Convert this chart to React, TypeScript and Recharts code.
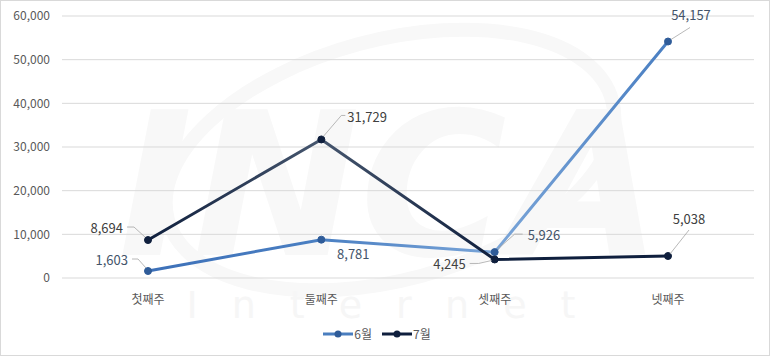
import React from 'react';
import { LineChart, Line, XAxis, YAxis, CartesianGrid, Legend } from 'recharts';

const categories = ['첫째주', '둘째주', '셋째주', '넷째주'];
const junValues = [1603, 8781, 5926, 54157];
const julValues = [8694, 31729, 4245, 5038];
const yTicks = [0, 10000, 20000, 30000, 40000, 50000, 60000];
const seriesNames = ['6월', '7월'];

const data = categories.map((c, i) => ({ name: c, jun: junValues[i], jul: julValues[i] }));

const FONT = "'Noto Sans CJK KR', 'Noto Sans', sans-serif";

type Place = { dx: number; dy: number; anchor: 'start' | 'middle' | 'end'; leader: number[][] | null };

const junPlaces: Place[] = [
  { dx: -20, dy: -12, anchor: 'end', leader: [[-16, -12], [-10, -12], [-2, -3]] },
  { dx: 32, dy: 14, anchor: 'middle', leader: null },
  { dx: 33, dy: -18, anchor: 'start', leader: [[3, -3], [20, -18], [28, -18]] },
  { dx: 23, dy: -27, anchor: 'middle', leader: [[3, -2], [22, -14]] },
];
const julPlaces: Place[] = [
  { dx: -25, dy: -13, anchor: 'end', leader: [[-21, -13], [-14, -13], [-3, -3]] },
  { dx: 26, dy: -23, anchor: 'start', leader: [[2, -3], [20, -24], [24, -24]] },
  { dx: -29, dy: 4, anchor: 'end', leader: [[-25, 4], [-16, 4], [-3, 1]] },
  { dx: 21, dy: -38, anchor: 'middle', leader: [[2, -2], [21, -26]] },
];

const makeLabel = (places: Place[], color: string) => (props: any) => {
  const { x, y, value, index } = props;
  const p = places[index];
  if (!p || x == null || y == null) return null;
  const pts = p.leader ? p.leader.map(([a, b]) => `${x + a},${y + b}`).join(' ') : null;
  return (
    <g>
      {pts && <polyline points={pts} fill="none" stroke="#a6a6a6" strokeWidth={0.8} />}
      <text
        x={x + p.dx}
        y={y + p.dy}
        textAnchor={p.anchor}
        dominantBaseline="central"
        fontSize={13}
        fontFamily={FONT}
        fill={color}
      >
        {Number(value).toLocaleString('en-US')}
      </text>
    </g>
  );
};

const renderLegend = () => {
  const items = [
    { name: seriesNames[0], color: '#4a7ebf', dot: '#2f5c99' },
    { name: seriesNames[1], color: '#0f1f3d', dot: '#0f1f3d' },
  ];
  return (
    <div style={{ display: 'flex', justifyContent: 'center', alignItems: 'center', paddingTop: 9, fontFamily: FONT, fontSize: 12, color: '#595959' }}>
      {items.map((it) => (
        <div key={it.name} style={{ display: 'flex', alignItems: 'center', margin: '0 5px' }}>
          <svg width={30} height={10}>
            <line x1={0} y1={5} x2={30} y2={5} stroke={it.color} strokeWidth={3} />
            <circle cx={15} cy={5} r={3.5} fill={it.dot} />
          </svg>
          <span style={{ marginLeft: 1 }}>{it.name}</span>
        </div>
      ))}
    </div>
  );
};

const Watermark = () => (
  <svg width={770} height={356} style={{ position: 'absolute', left: 0, top: 0 }}>
    <ellipse cx={390} cy={160} rx={230} ry={120} fill="none" stroke="#f8f8f8" strokeWidth={14} transform="rotate(-15 390 160)" />
    <text x={390} y={255} textAnchor="middle" fontSize={200} fontWeight="bold" fontStyle="italic" fontFamily="'DejaVu Sans', sans-serif" fill="#f8f8f8">INCA</text>
    <text x={398} y={318} textAnchor="middle" fontSize={38} letterSpacing={34} fontFamily="'DejaVu Sans', sans-serif" fill="#f6f6f6">Internet</text>
  </svg>
);

export default function App() {
  return (
    <div style={{ position: 'absolute', left: 0, top: 0, width: 768, height: 354, border: '1px solid #d9d9d9', background: '#fff' }}>
      <div style={{ position: 'absolute', left: -1, top: -1 }}>
        <Watermark />
      </div>
      <div style={{ position: 'absolute', left: -1, top: -1 }}>
        <LineChart width={770} height={356} data={data} margin={{ top: 16, right: 16, left: 0, bottom: 8 }}>
          <defs>
            <linearGradient id="gJun" gradientUnits="userSpaceOnUse" x1={148} y1={0} x2={667} y2={0}>
              <stop offset="0" stopColor="#3d70b8" />
              <stop offset="0.33" stopColor="#4a7fc2" />
              <stop offset="0.67" stopColor="#7aa5d8" />
              <stop offset="1" stopColor="#4a7fc2" />
            </linearGradient>
            <linearGradient id="gJul" gradientUnits="userSpaceOnUse" x1={148} y1={0} x2={667} y2={0}>
              <stop offset="0" stopColor="#0f1f3d" />
              <stop offset="0.33" stopColor="#46566e" />
              <stop offset="0.67" stopColor="#0f1f3d" />
              <stop offset="1" stopColor="#0f1f3d" />
            </linearGradient>
          </defs>
          <CartesianGrid vertical={false} stroke="#d9d9d9" strokeWidth={1} />
          <XAxis
            dataKey="name"
            axisLine={false}
            tickLine={false}
            tickSize={0}
            tickMargin={17}
            height={38}
            padding={{ left: 86, right: 86 }}
            tick={{ fontSize: 12, fill: '#595959', fontFamily: FONT }}
          />
          <YAxis
            domain={[0, 60000]}
            ticks={yTicks}
            width={62}
            axisLine={false}
            tickLine={false}
            tickSize={0}
            tickMargin={12}
            tickFormatter={(v: number) => v.toLocaleString('en-US')}
            tick={{ fontSize: 12, fill: '#595959', fontFamily: FONT }}
          />
          <Legend verticalAlign="bottom" height={32} content={renderLegend} />
          <Line
            type="linear"
            dataKey="jun"
            name={seriesNames[0]}
            stroke="url(#gJun)"
            strokeWidth={3}
            dot={{ r: 3.5, fill: '#2f5c99', stroke: '#2f5c99', strokeWidth: 1 }}
            isAnimationActive={false}
            label={makeLabel(junPlaces, '#44546a')}
          />
          <Line
            type="linear"
            dataKey="jul"
            name={seriesNames[1]}
            stroke="url(#gJul)"
            strokeWidth={3}
            dot={{ r: 3.5, fill: '#0f1f3d', stroke: '#0f1f3d', strokeWidth: 1 }}
            isAnimationActive={false}
            label={makeLabel(julPlaces, '#404040')}
          />
        </LineChart>
      </div>
    </div>
  );
}
